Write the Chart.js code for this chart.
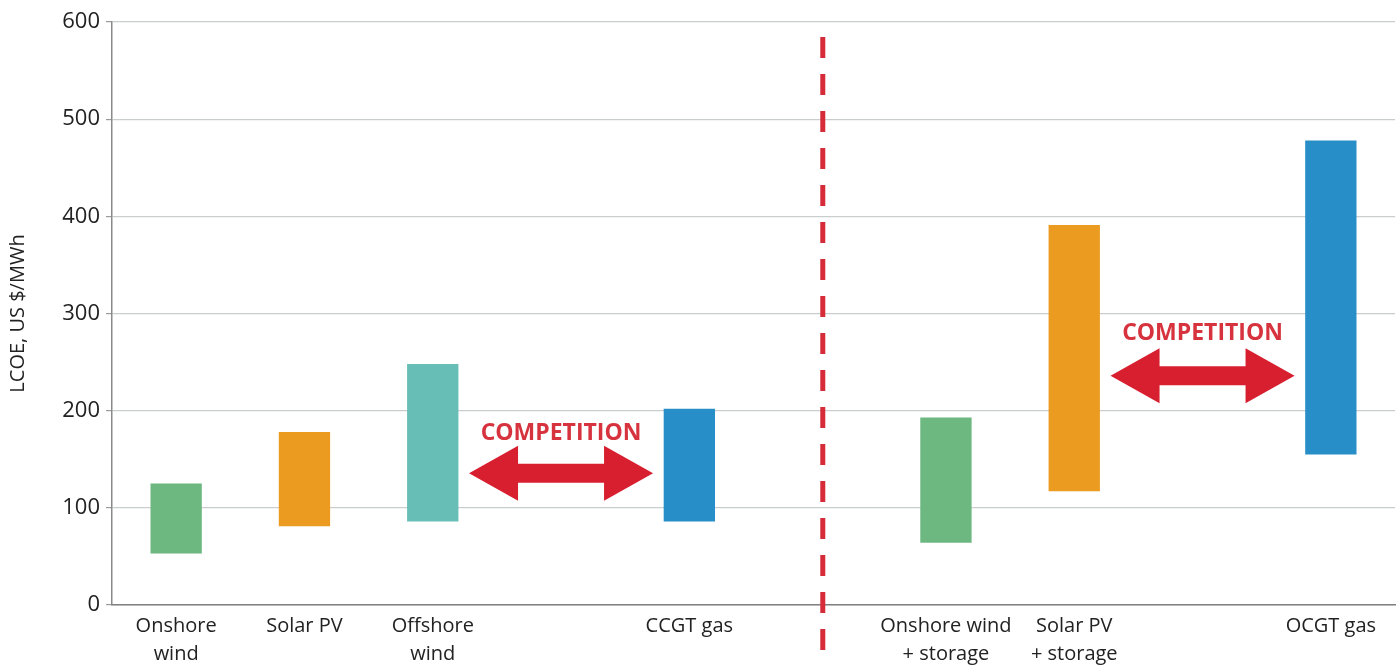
<!DOCTYPE html>
<html>
<head>
<meta charset="utf-8">
<script src="https://cdn.jsdelivr.net/npm/chart.js@4.4.1/dist/chart.umd.min.js"></script>
<style>
  html, body { margin: 0; padding: 0; background: #ffffff; }
  #wrap { width: 1400px; height: 666px; position: relative; }
</style>
</head>
<body>
<div id="wrap"><canvas id="c" width="1400" height="666"></canvas></div>
<script>
// ---- data ----
const categories = [
  ["Onshore", "wind"], "Solar PV", ["Offshore", "wind"], "", "CCGT gas",
  "", ["Onshore wind", "+ storage"], ["Solar PV", "+ storage"], "", "OCGT gas"
];
const lowValues  = [53, 81, 86, null, 86, null, 64, 117, null, 155];
const highValues = [125, 178, 248, null, 202, null, 193, 391, null, 478];
const barColors  = ["#6cb880", "#ec9b21", "#67beb7", "#ffffff", "#288ec8",
                    "#ffffff", "#6cb880", "#ec9b21", "#ffffff", "#288ec8"];
const yTicks = [0, 100, 200, 300, 400, 500, 600];
// competition annotations: [category index of arrow centre, arrow value, text value]
const competitionNotes = [
  { at: 3, arrowValue: 135.6, textValue: 177, label: "COMPETITION" },
  { at: 8, arrowValue: 236, textValue: 279, label: "COMPETITION" }
];
const dividerAt = 5.04;

const ranges = lowValues.map((lo, i) => (lo === null ? null : [lo, highValues[i]]));

const FONT = "'Open Sans', 'Noto Sans', 'DejaVu Sans', sans-serif";

const overlay = {
  id: 'overlay',
  afterDatasetsDraw(chart) {
    const { ctx, scales: { x, y } } = chart;
    ctx.save();
    // divider dashed line
    const dx = x.getPixelForValue(dividerAt);
    ctx.strokeStyle = '#d62b38';
    ctx.lineWidth = 5;
    ctx.setLineDash([21, 16]);
    ctx.beginPath();
    ctx.moveTo(dx, y.getPixelForValue(600) + 15);
    ctx.lineTo(dx, chart.height - 10);
    ctx.stroke();
    ctx.setLineDash([]);

    // arrows
    competitionNotes.forEach(n => {
      const cx = x.getPixelForValue(n.at);
      const cy = y.getPixelForValue(n.arrowValue);
      const L = 92, head = 49, hh = 27.5, sh = 9.5;
      ctx.fillStyle = '#d71f2f';
      ctx.beginPath();
      ctx.moveTo(cx - L, cy);
      ctx.lineTo(cx - L + head, cy - hh);
      ctx.lineTo(cx - L + head, cy - sh);
      ctx.lineTo(cx + L - head, cy - sh);
      ctx.lineTo(cx + L - head, cy - hh);
      ctx.lineTo(cx + L, cy);
      ctx.lineTo(cx + L - head, cy + hh);
      ctx.lineTo(cx + L - head, cy + sh);
      ctx.lineTo(cx - L + head, cy + sh);
      ctx.lineTo(cx - L + head, cy + hh);
      ctx.closePath();
      ctx.fill();

      ctx.fillStyle = '#d7333f';
      ctx.font = "bold 23px " + FONT;
      ctx.textAlign = 'center';
      ctx.textBaseline = 'middle';
      ctx.fillText(n.label, cx, y.getPixelForValue(n.textValue));
    });
    ctx.restore();
  }
};

new Chart(document.getElementById('c'), {
  type: 'bar',
  data: {
    labels: categories,
    datasets: [{
      data: ranges,
      backgroundColor: barColors,
      borderWidth: 0,
      barPercentage: 0.4,
      categoryPercentage: 1.0
    }]
  },
  options: {
    responsive: false,
    animation: false,
    devicePixelRatio: 1,
    layout: { padding: { top: 22, right: 5, left: 0, bottom: 0 } },
    plugins: { legend: { display: false }, tooltip: { enabled: false }, title: { display: false } },
    scales: {
      x: {
        grid: { color: 'rgba(0,0,0,0)', drawTicks: false },
        border: { display: true, color: '#808080', width: 1.5 },
        ticks: {
          color: '#222222',
          font: { family: FONT, size: 20, lineHeight: 1.4 },
          padding: 7,
          maxRotation: 0,
          autoSkip: false
        },
        afterFit(scale) { scale.height = 61; }
      },
      y: {
        min: 0, max: 600,
        afterBuildTicks(scale) { scale.ticks = yTicks.map(v => ({ value: v })); },
        grid: { color: '#c9cdcd', lineWidth: 1.2, tickLength: 6, tickColor: '#9a9a9a' },
        border: { display: true, color: '#8a8a8a', width: 1.5 },
        ticks: {
          color: '#222222',
          font: { family: FONT, size: 22 },
          padding: 6
        },
        title: {
          display: true,
          text: 'LCOE, US $/MWh',
          color: '#222222',
          font: { family: FONT, size: 20 },
          padding: { top: 6, bottom: 0 }
        },
        afterFit(scale) { scale.width = 112; }
      }
    }
  },
  plugins: [overlay]
});
</script>
</body>
</html>
